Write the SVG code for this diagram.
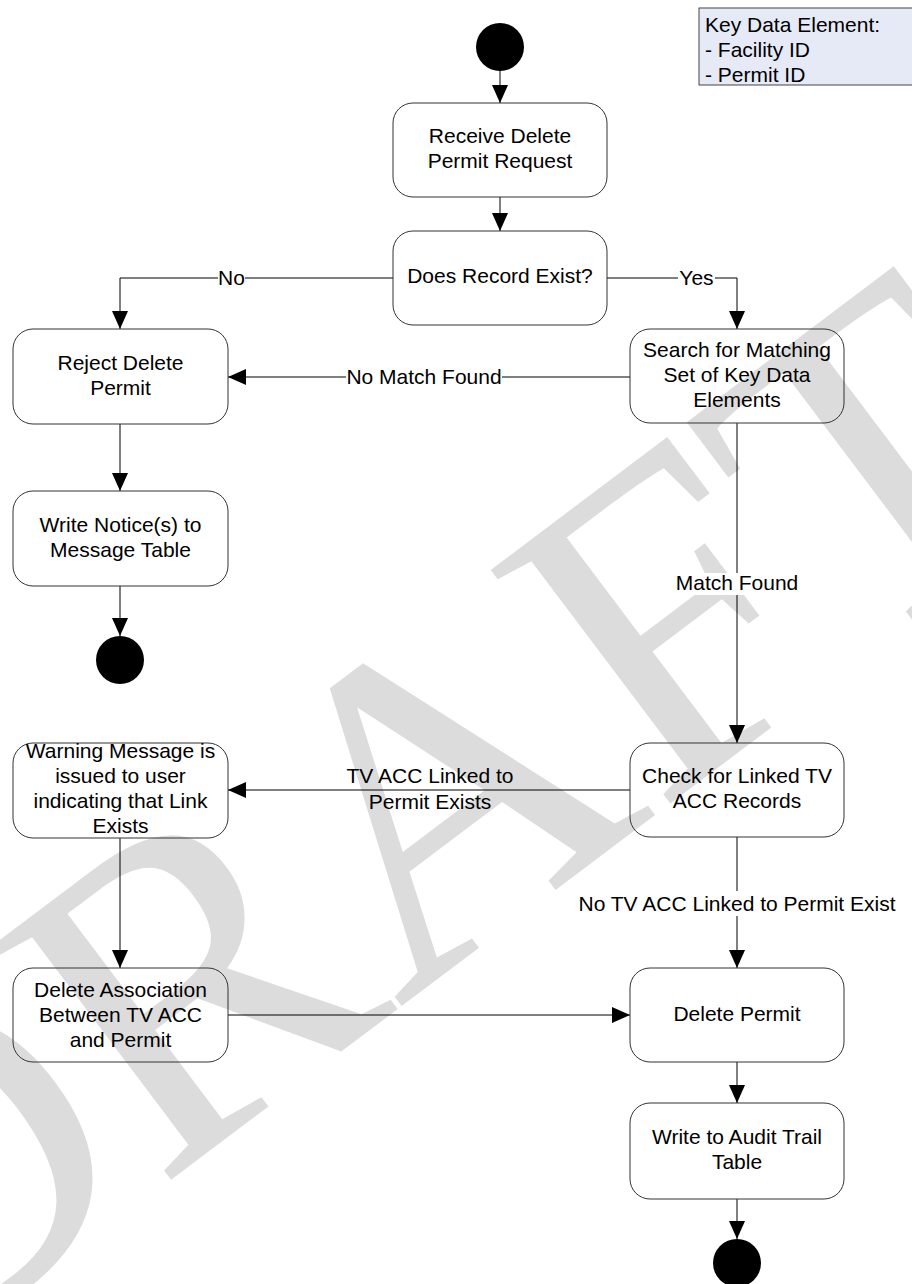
<svg xmlns="http://www.w3.org/2000/svg" width="912" height="1284" viewBox="0 0 912 1284">
  <style>
    .node rect { fill: none; stroke: #333; stroke-width: 1; }
    .node text, .lbl text { font-family: "Liberation Sans", Arial, sans-serif; font-size: 21px; fill: #000; text-anchor: middle; }
    .dot { fill: #000; }
    .edge { fill: none; stroke: #000; stroke-width: 1; }
    .lbl rect { fill: #fff; }
    .legend rect { fill: #e6eaf7; stroke: #444; stroke-width: 1; }
    .legend text { font-family: "Liberation Sans", Arial, sans-serif; font-size: 21px; fill: #000; }
    .watermark { font-family: "Liberation Serif", "Times New Roman", serif; font-size: 450px; fill: #dcdcdc; text-anchor: middle; }
  </style>
  <defs>
    <marker id="arrow" viewBox="0 0 18 16" refX="18" refY="8" markerWidth="18" markerHeight="16" markerUnits="userSpaceOnUse" orient="auto">
      <path d="M0,0 L18,8 L0,16 Z" fill="#000"/>
    </marker>
  </defs>

  <rect width="912" height="1284" fill="#fff"/>

  <!-- background watermark -->
  <text class="watermark" transform="translate(488,941) rotate(-37)">DRAFT</text>

  <!-- legend -->
  <g id="legend" class="legend">
    <rect x="699" y="8" width="230" height="77"/>
    <text x="705" y="32">Key Data Element:</text>
    <text x="705" y="57">- Facility ID</text>
    <text x="705" y="82">- Permit ID</text>
  </g>

  <!-- connectors -->
  <g id="connectors">
    <path class="edge" d="M500,71 V103" marker-end="url(#arrow)"/>
    <path class="edge" d="M500,197 V231" marker-end="url(#arrow)"/>
    <path class="edge" d="M393,278 H120 V329" marker-end="url(#arrow)"/>
    <path class="edge" d="M607,278 H737 V329" marker-end="url(#arrow)"/>
    <path class="edge" d="M630,377 H228" marker-end="url(#arrow)"/>
    <path class="edge" d="M120,424 V491" marker-end="url(#arrow)"/>
    <path class="edge" d="M120,586 V636" marker-end="url(#arrow)"/>
    <path class="edge" d="M737,423 V743" marker-end="url(#arrow)"/>
    <path class="edge" d="M630,790 H228" marker-end="url(#arrow)"/>
    <path class="edge" d="M120,838 V968" marker-end="url(#arrow)"/>
    <path class="edge" d="M737,837 V968" marker-end="url(#arrow)"/>
    <path class="edge" d="M228,1015 H630" marker-end="url(#arrow)"/>
    <path class="edge" d="M737,1062 V1103" marker-end="url(#arrow)"/>
    <path class="edge" d="M737,1199 V1239" marker-end="url(#arrow)"/>

    <g class="lbl">
      <rect x="218" y="268" width="27" height="21"/>
      <text x="231.5" y="285">No</text>
      <rect x="678" y="268" width="37" height="21"/>
      <text x="696.5" y="285">Yes</text>
      <rect x="346" y="367" width="156" height="21"/>
      <text x="424" y="384">No Match Found</text>
      <rect x="675" y="573" width="124" height="22"/>
      <text x="737" y="590">Match Found</text>
      <text x="430" y="783">TV ACC Linked to</text>
      <text x="430" y="809">Permit Exists</text>
      <rect x="577" y="891" width="320" height="25"/>
      <text x="737" y="911">No TV ACC Linked to Permit Exist</text>
    </g>
  </g>

  <!-- start / end points -->
  <g id="start"><circle class="dot" cx="500" cy="47" r="24"/></g>
  <g id="end-reject"><circle class="dot" cx="120" cy="660" r="24"/></g>
  <g id="end-delete"><circle class="dot" cx="737" cy="1263" r="24"/></g>

  <!-- activities -->
  <g id="receive" class="node">
    <rect x="393" y="103" width="214" height="94" rx="20"/>
    <text x="500" y="143">Receive Delete</text>
    <text x="500" y="168">Permit Request</text>
  </g>
  <g id="record-exists" class="node">
    <rect x="393" y="231" width="214" height="94" rx="20"/>
    <text x="500" y="283">Does Record Exist?</text>
  </g>
  <g id="reject" class="node">
    <rect x="13" y="329" width="215" height="95" rx="20"/>
    <text x="120.5" y="370">Reject Delete</text>
    <text x="120.5" y="395">Permit</text>
  </g>
  <g id="search" class="node">
    <rect x="630" y="329" width="214" height="94" rx="20"/>
    <text x="737" y="357">Search for Matching</text>
    <text x="737" y="382">Set of Key Data</text>
    <text x="737" y="407">Elements</text>
  </g>
  <g id="write-notice" class="node">
    <rect x="13" y="491" width="215" height="95" rx="20"/>
    <text x="120.5" y="532">Write Notice(s) to</text>
    <text x="120.5" y="557">Message Table</text>
  </g>
  <g id="warning" class="node">
    <rect x="13" y="743" width="215" height="95" rx="20"/>
    <text x="120.5" y="758">Warning Message is</text>
    <text x="120.5" y="783">issued to user</text>
    <text x="120.5" y="808">indicating that Link</text>
    <text x="120.5" y="833">Exists</text>
  </g>
  <g id="check-links" class="node">
    <rect x="630" y="743" width="214" height="94" rx="20"/>
    <text x="737" y="783">Check for Linked TV</text>
    <text x="737" y="808">ACC Records</text>
  </g>
  <g id="delete-association" class="node">
    <rect x="13" y="968" width="215" height="94" rx="20"/>
    <text x="120.5" y="997">Delete Association</text>
    <text x="120.5" y="1022">Between TV ACC</text>
    <text x="120.5" y="1047">and Permit</text>
  </g>
  <g id="delete-permit" class="node">
    <rect x="630" y="968" width="214" height="94" rx="20"/>
    <text x="737" y="1021">Delete Permit</text>
  </g>
  <g id="audit" class="node">
    <rect x="630" y="1103" width="214" height="96" rx="20"/>
    <text x="737" y="1144">Write to Audit Trail</text>
    <text x="737" y="1169">Table</text>
  </g>
</svg>
